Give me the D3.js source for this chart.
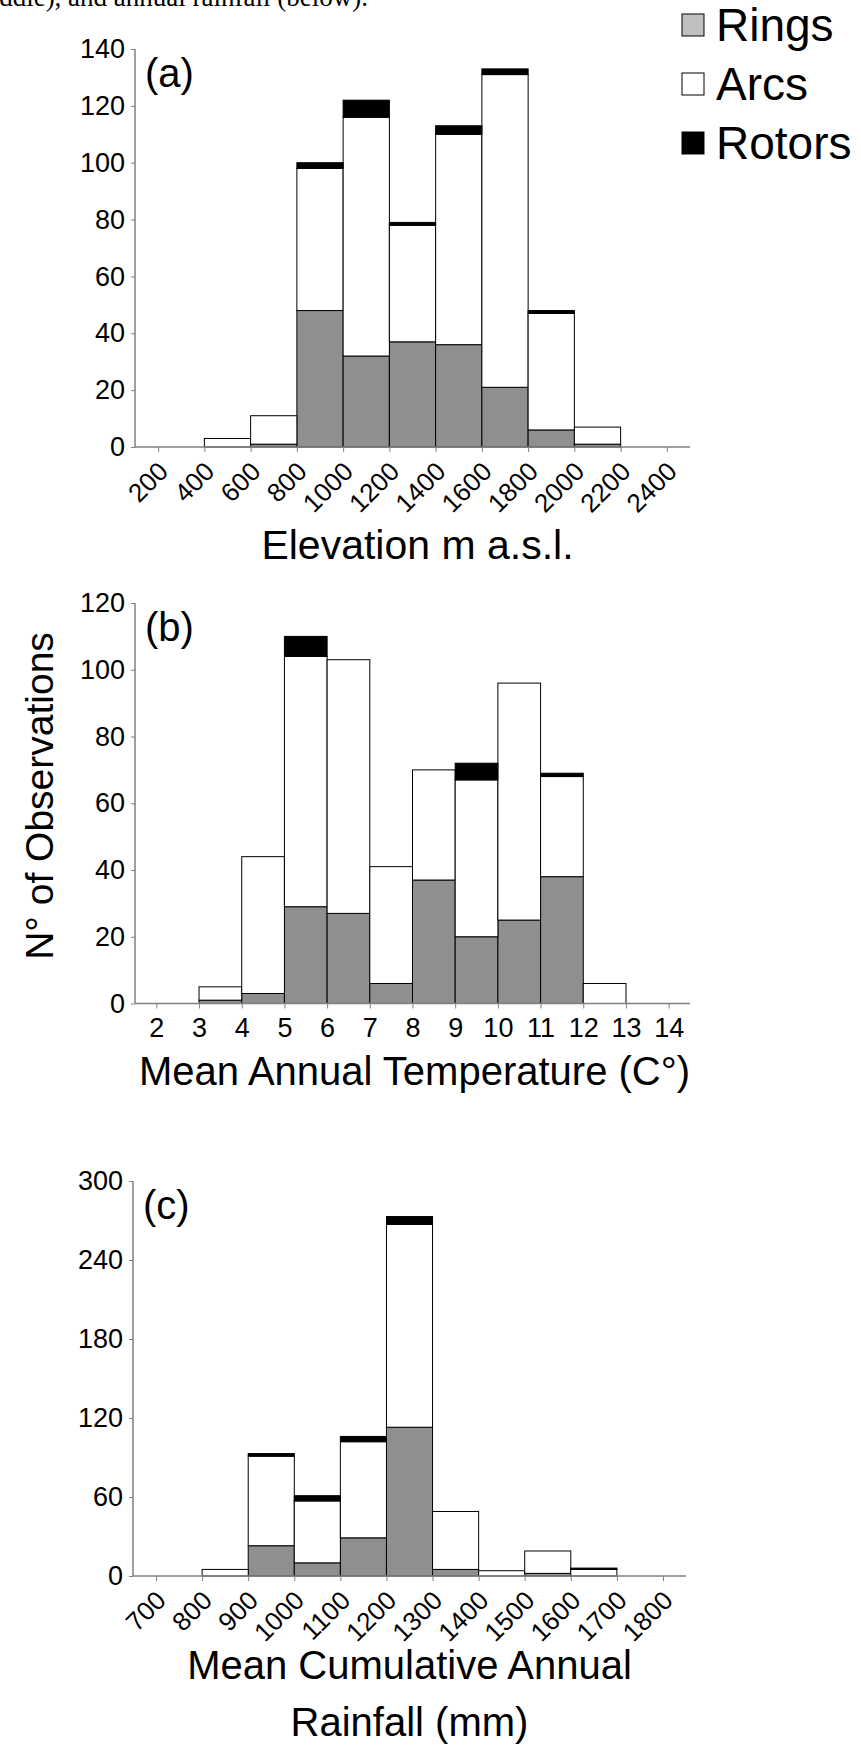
<!DOCTYPE html>
<html>
<head>
<meta charset="utf-8">
<script src="https://cdn.jsdelivr.net/npm/d3@7"></script>
<style>
  html, body { margin: 0; padding: 0; background: #fff; }
  svg { display: block; }
  text { font-family: "Liberation Sans", Arial, Helvetica, sans-serif; fill: #000; }
</style>
</head>
<body>
<svg id="chart" width="861" height="1746"></svg>
<script>
// ---------- DATA ----------
const seriesNames = ["Rings", "Arcs", "Rotors"];

// (a) Elevation (bin edges = tick labels)
const elevTicks  = [200, 400, 600, 800, 1000, 1200, 1400, 1600, 1800, 2000, 2200, 2400];
const elevRings  = [0, 0, 1, 48, 32, 37, 36, 21, 6, 1, 0];
const elevArcs   = [0, 3, 10, 50, 84, 41, 74, 110, 41, 6, 0];
const elevRotors = [0, 0, 0, 2, 6, 1, 3, 2, 1, 0, 0];
const elevYTicks = [0, 20, 40, 60, 80, 100, 120, 140];

// (b) Mean annual temperature
const tempTicks  = [2, 3, 4, 5, 6, 7, 8, 9, 10, 11, 12, 13, 14];
const tempRings  = [0, 1, 3, 29, 27, 6, 37, 20, 25, 38, 0, 0];
const tempArcs   = [0, 4, 41, 75, 76, 35, 33, 47, 71, 30, 6, 0];
const tempRotors = [0, 0, 0, 6, 0, 0, 0, 5, 0, 1, 0, 0];
const tempYTicks = [0, 20, 40, 60, 80, 100, 120];

// (c) Mean cumulative annual rainfall
const rainTicks  = [700, 800, 900, 1000, 1100, 1200, 1300, 1400, 1500, 1600, 1700, 1800];
const rainRings  = [0, 0, 23, 10, 29, 113, 5, 0, 2, 0, 0];
const rainArcs   = [0, 5, 68, 47, 73, 154, 44, 4, 17, 5, 0];
const rainRotors = [0, 0, 2, 4, 4, 6, 0, 0, 0, 1, 0];
const rainYTicks = [0, 60, 120, 180, 240, 300];

// ---------- STYLE ----------
const colors = { Rings: "#8f8f8f", Arcs: "#ffffff", Rotors: "#000000" };
const legendColors = { Rings: "#c0c0c0", Arcs: "#ffffff", Rotors: "#000000" };
const axisColor = "#808080";

const svg = d3.select("#chart");
svg.append("rect").attr("width", 861).attr("height", 1746).attr("fill", "#fff");

// cut-off caption line at the very top
svg.append("text")
  .attr("x", 368).attr("y", 6)
  .attr("text-anchor", "end")
  .style("font-family", "'Liberation Serif', 'Times New Roman', serif")
  .style("font-size", "27px")
  .text("middle), and annual rainfall (below).");

function drawPanel(cfg) {
  const step = cfg.ticks[1] - cfg.ticks[0];
  const x = d3.scaleLinear()
    .domain([cfg.ticks[0] - step / 2, cfg.ticks[cfg.ticks.length - 1] + step / 2])
    .range([cfg.left, cfg.right]);
  const y = d3.scaleLinear()
    .domain([0, cfg.yTicks[cfg.yTicks.length - 1]])
    .range([cfg.bottom, cfg.top]);

  const g = svg.append("g");

  const bins = cfg.rings.map((r, i) => ({
    x0: cfg.ticks[i], x1: cfg.ticks[i + 1],
    Rings: r, Arcs: cfg.arcs[i], Rotors: cfg.rotors[i]
  }));
  const stack = d3.stack().keys(seriesNames)(bins);

  stack.forEach(layer => {
    g.append("g").selectAll("rect")
      .data(layer.filter(d => d[1] - d[0] > 0))
      .join("rect")
      .attr("x", d => x(d.data.x0))
      .attr("width", d => x(d.data.x1) - x(d.data.x0))
      .attr("y", d => y(d[1]))
      .attr("height", d => y(d[0]) - y(d[1]))
      .attr("fill", colors[layer.key])
      .attr("stroke", "#000")
      .attr("stroke-width", 1);
  });

  // y axis
  const yAxis = d3.axisLeft(y).tickValues(cfg.yTicks).tickSize(4).tickPadding(6).tickFormat(d3.format("d"));
  const ya = g.append("g").attr("transform", `translate(${cfg.left},0)`).call(yAxis);
  ya.select(".domain").attr("stroke", axisColor).attr("stroke-width", 1.5).attr("d", `M-0,${cfg.bottom}V${cfg.top}`);
  ya.selectAll(".tick line").attr("stroke", axisColor);
  ya.selectAll(".tick text").style("font-size", "27px").style("font-family", "'Liberation Sans', Arial, sans-serif").attr("fill", "#000");

  // x axis
  const xAxis = d3.axisBottom(x).tickValues(cfg.ticks).tickSize(5).tickFormat(d3.format("d"));
  const xa = g.append("g").attr("transform", `translate(0,${cfg.bottom})`).call(xAxis);
  xa.select(".domain").attr("stroke", axisColor).attr("stroke-width", 1.5).attr("d", `M${cfg.left},0H${cfg.right}`);
  xa.selectAll(".tick line").attr("stroke", axisColor);
  const tt = xa.selectAll(".tick text")
    .style("font-size", cfg.rotate ? "26px" : "27px")
    .style("font-family", "'Liberation Sans', Arial, sans-serif")
    .attr("fill", "#000");
  if (cfg.rotate) {
    tt.attr("text-anchor", "end").attr("dy", null).attr("y", null)
      .attr("transform", "translate(11,26) rotate(-45)");
  } else {
    tt.attr("y", 14).attr("dy", "0.71em");
  }

  // panel letter
  g.append("text").attr("x", cfg.left + 10).attr("y", cfg.top + 38)
    .style("font-size", "40px").text(cfg.letter);

  // x title
  cfg.title.forEach((t, i) => {
    g.append("text")
      .attr("x", (cfg.left + cfg.right) / 2 + cfg.titleShift)
      .attr("y", cfg.bottom + cfg.titleOffset + i * 57)
      .attr("text-anchor", "middle")
      .style("font-size", cfg.titleSize)
      .text(t);
  });
}

drawPanel({ ticks: elevTicks, rings: elevRings, arcs: elevArcs, rotors: elevRotors, yTicks: elevYTicks,
  left: 135, right: 690, top: 49, bottom: 447, rotate: true, letter: "(a)",
  title: ["Elevation m a.s.l."], titleOffset: 112, titleShift: 5, titleSize: "41px" });

drawPanel({ ticks: tempTicks, rings: tempRings, arcs: tempArcs, rotors: tempRotors, yTicks: tempYTicks,
  left: 135, right: 690, top: 603, bottom: 1003.5, rotate: false, letter: "(b)",
  title: ["Mean Annual Temperature (C°)"], titleOffset: 81, titleShift: 2, titleSize: "40px" });

drawPanel({ ticks: rainTicks, rings: rainRings, arcs: rainArcs, rotors: rainRotors, yTicks: rainYTicks,
  left: 133, right: 686, top: 1181, bottom: 1576, rotate: true, letter: "(c)",
  title: ["Mean Cumulative Annual", "Rainfall (mm)"], titleOffset: 103, titleShift: 0, titleSize: "40px" });

// shared y title
svg.append("text")
  .attr("transform", "translate(53,796) rotate(-90)")
  .attr("text-anchor", "middle")
  .style("font-size", "39px")
  .text("N° of Observations");

// legend
const legend = svg.append("g");
seriesNames.forEach((name, i) => {
  const cy = 25 + i * 59;
  legend.append("rect").attr("x", 682).attr("y", cy - 11).attr("width", 22).attr("height", 22)
    .attr("fill", legendColors[name]).attr("stroke", "#000").attr("stroke-width", 1);
  legend.append("text").attr("x", 716).attr("y", cy + 16).style("font-size", "46px").text(name);
});
</script>
</body>
</html>
